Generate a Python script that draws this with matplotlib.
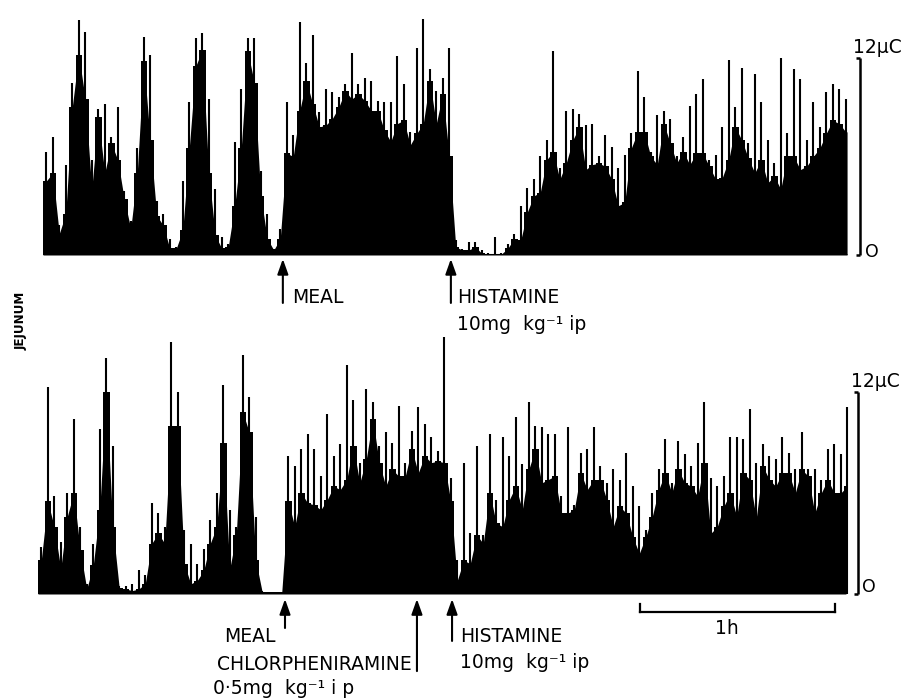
import numpy as np
import matplotlib
matplotlib.use("Agg")
import matplotlib.pyplot as plt

# ---------------- data (µC per 2-min bin) ----------------
BIN_MIN = 2.0  # minutes per bin

top_body = [4.5, 5.0, 1.3, 2.5, 9.0, 12.2, 9.5, 4.0, 8.4, 5.0,
            6.8, 5.8, 3.4, 1.6, 5.0, 11.8, 7.0, 2.4, 1.8, 0.4,
            0.4, 1.5, 6.5, 11.5, 12.5, 5.0, 1.2, 0.4, 0.5, 3.0,
            6.5, 12.4, 10.5, 3.6, 1.0, 0.3, 1.0, 6.2, 6.0, 8.8,
            10.6, 9.2, 7.8, 7.9, 8.3, 9.0, 10.0, 9.5, 9.8, 9.4,
            8.8, 8.8, 7.6, 6.9, 8.0, 8.2, 6.7, 7.4, 8.0, 10.6,
            8.0, 9.8, 6.0, 0.5, 0.3, 0.3, 0.5, 0.1, 0.05, 0.05,
            0.05, 0.4, 1.0, 0.9, 2.6, 3.6, 3.8, 5.8, 6.3, 4.6,
            5.6, 7.0, 7.8, 5.2, 5.5, 5.6, 5.4, 4.6, 3.0, 3.2,
            6.5, 7.5, 7.5, 6.0, 5.5, 8.0, 6.8, 5.6, 6.3, 5.5,
            6.2, 6.2, 5.4, 4.6, 4.7, 5.8, 7.8, 7.0, 5.9, 5.0,
            5.8, 4.4, 4.8, 4.0, 6.0, 6.0, 5.2, 5.4, 6.0, 6.5,
            7.4, 8.2, 8.0, 7.5]
top_peak = [6.3, 7.2, 1.8, 5.5, 10.5, 14.3, 13.6, 5.8, 8.9, 9.2,
            7.2, 9.0, 3.9, 2.1, 6.5, 13.3, 12.2, 3.3, 2.5, 1.0,
            0.5, 4.5, 9.3, 13.2, 13.5, 9.5, 4.0, 1.1, 0.7, 6.9,
            10.1, 13.2, 13.2, 5.1, 2.5, 0.35, 1.6, 9.3, 7.3, 14.2,
            11.7, 13.4, 8.7, 10.1, 9.9, 9.6, 10.4, 12.3, 10.4, 10.8,
            10.6, 9.4, 9.3, 9.3, 12.1, 10.4, 7.5, 12.6, 14.4, 11.3,
            10.0, 10.8, 12.6, 0.9, 0.35, 0.8, 0.8, 0.3, 0.1, 1.1,
            0.1, 0.7, 1.3, 3.0, 4.1, 4.6, 6.0, 7.0, 12.4, 5.3,
            8.8, 8.9, 8.6, 7.9, 8.0, 6.0, 7.3, 6.6, 5.3, 6.1,
            7.4, 11.2, 9.6, 6.3, 8.5, 8.8, 8.3, 6.0, 7.2, 9.1,
            9.8, 10.7, 5.8, 6.1, 7.8, 11.9, 9.0, 11.4, 6.8, 11.0,
            9.3, 7.0, 5.6, 12.0, 7.4, 11.3, 10.7, 7.0, 9.3, 7.8,
            9.9, 10.4, 10.1, 9.5]

bot_body = [2.0, 5.5, 4.0, 1.5, 4.6, 6.0, 2.6, 0.3, 1.7, 5.0,
            12.0, 4.0, 0.35, 0.3, 0.2, 0.3, 0.6, 3.0, 3.6, 3.0,
            10.0, 10.0, 1.8, 0.6, 0.8, 1.4, 3.0, 4.0, 9.0, 1.5,
            3.5, 10.8, 9.6, 2.0, 0.1, 0.1, 0.1, 0.1, 5.5, 4.0,
            6.0, 5.4, 5.3, 5.0, 5.6, 6.4, 6.2, 6.8, 8.8, 6.6,
            8.0, 10.4, 7.8, 6.4, 7.4, 7.0, 7.0, 8.6, 7.2, 8.2,
            7.8, 7.9, 7.8, 5.5, 0.8, 2.0, 1.8, 3.5, 3.0, 6.0,
            4.2, 4.0, 5.6, 6.4, 5.0, 7.4, 8.6, 6.6, 6.8, 7.0,
            4.8, 4.8, 5.0, 7.2, 6.2, 6.8, 6.8, 5.6, 4.0, 5.2,
            4.8, 3.4, 2.4, 3.4, 4.6, 6.2, 7.2, 6.0, 7.4, 6.6,
            6.4, 5.8, 7.8, 3.6, 4.0, 5.2, 6.0, 4.6, 7.2, 6.8,
            4.5, 7.6, 6.8, 6.4, 7.2, 7.2, 6.0, 7.4, 7.0, 4.8,
            6.0, 6.8, 6.0, 6.0, 6.4]
bot_peak = [2.8, 12.3, 5.8, 3.1, 6.0, 10.4, 4.0, 0.6, 3.0, 9.8,
            14.0, 8.8, 0.5, 0.5, 0.6, 1.4, 1.1, 5.4, 4.8, 4.0,
            15.0, 12.0, 3.8, 3.0, 1.8, 2.7, 4.4, 6.0, 12.4, 5.0,
            4.0, 14.2, 11.7, 4.6, 0.2, 0.1, 0.1, 0.1, 8.2, 7.6,
            8.6, 9.5, 8.6, 7.0, 10.7, 8.2, 8.9, 13.6, 11.5, 7.8,
            12.2, 11.4, 8.8, 9.6, 9.0, 11.2, 7.8, 9.7, 11.1, 10.1,
            9.3, 8.5, 15.3, 6.9, 2.0, 7.8, 3.6, 8.8, 3.5, 9.5,
            5.6, 9.3, 8.2, 10.5, 7.7, 11.4, 10.0, 9.9, 9.5, 9.5,
            5.8, 9.9, 5.3, 8.4, 8.6, 9.9, 7.6, 6.6, 7.4, 6.8,
            8.4, 6.4, 5.2, 3.8, 6.0, 7.4, 9.2, 6.6, 9.1, 8.3,
            7.6, 9.0, 11.4, 6.9, 6.4, 7.0, 9.3, 9.3, 9.2, 11.0,
            7.8, 8.9, 8.2, 8.0, 9.3, 8.4, 7.4, 9.6, 7.4, 7.4,
            6.8, 8.6, 8.9, 8.3, 11.1]

# event times (minutes from start of each trace)
top_meal_t = 73.8
top_hist_t = 125.5
bot_meal_t = 76.0
bot_chlor_t = 116.6
bot_hist_t = 127.4

scale_uC = 12          # vertical calibration
scale_hour_min = 60    # horizontal calibration
scale_hour_start = 185.2

# ---------------- layout ----------------
W, H = 905, 699
fig = plt.figure(figsize=(W / 100, H / 100), dpi=100)
plt.rcParams['font.family'] = ['DejaVu Sans']
FS = 13.5


def add_axes_px(left, right, bottom, top):
    return fig.add_axes([left / W, 1 - bottom / H, (right - left) / W, (bottom - top) / H])


def ftext(x, y, s, **kw):
    kw.setdefault('fontsize', FS)
    kw.setdefault('va', 'baseline')
    fig.text(x / W, 1 - y / H, s, **kw)


ax1 = add_axes_px(43, 43 + 250 * 3.25, 255, 255 - 15.2 * 16.42)
ax1.set_xlim(0, 250)
ax1.set_ylim(0, 15.2)
ax2 = add_axes_px(38, 38 + 250 * 3.25, 594, 594 - 15.6 * 16.83)
ax2.set_xlim(0, 250)
ax2.set_ylim(0, 15.6)
for ax in (ax1, ax2):
    ax.axis('off')


def draw_trace(ax, body, peak, t_end):
    body = np.asarray(body, float)
    peak = np.asarray(peak, float)
    n = len(body)
    t = (np.arange(n) + 0.5) * BIN_MIN
    t_fill = np.concatenate([[0.0], t, [t_end]])
    b_fill = np.concatenate([[body[0]], body, [body[-1]]])
    # solid mass of the record: linear and stepped envelopes together
    ax.fill_between(t_fill, 0, b_fill, color='k', lw=0)
    ax.fill_between(t_fill, 0, b_fill, step='mid', color='k', lw=0)
    ax.vlines(t, 0, peak, color='k', lw=1.5)
    ax.hlines(0, 0, t_end, color='k', lw=2.2)


draw_trace(ax1, top_body, top_peak, len(top_body) * BIN_MIN - 0.6)
draw_trace(ax2, bot_body, bot_peak, len(bot_body) * BIN_MIN - 1.4)


def cal_bar(ax, tb, label_dx, zero_dx, zero_y):
    kw = dict(color='k', lw=1.8, clip_on=False, solid_capstyle='butt')
    ax.plot([tb, tb], [0, scale_uC], **kw)
    ax.plot([tb - 1.2, tb], [scale_uC, scale_uC], **kw)
    ax.plot([tb - 1.2, tb], [0, 0], **kw)
    ax.text(tb + label_dx, scale_uC + 0.3, '12µC', fontsize=FS, ha='left', va='baseline', clip_on=False)
    ax.text(tb + zero_dx, zero_y, 'O', fontsize=FS - 1, ha='left', va='center', clip_on=False)


cal_bar(ax1, (860 - 43) / 3.25, -2.2, 1.6, 0.2)
cal_bar(ax2, (858 - 38) / 3.25, -2.2, 1.2, 0.39)


def arrow(ax, t, y_head, y_tail):
    ax.annotate('', xy=(t, y_head), xytext=(t, y_tail),
                arrowprops=dict(arrowstyle='-|>,head_length=0.7,head_width=0.25', color='k', lw=1.5,
                                mutation_scale=13, shrinkA=0, shrinkB=0),
                annotation_clip=False)


arrow(ax1, top_meal_t, -0.24, -2.92)
arrow(ax1, top_hist_t, -0.24, -2.92)
arrow(ax2, bot_meal_t, -0.30, -2.02)
arrow(ax2, bot_chlor_t, -0.30, -4.58)
arrow(ax2, bot_hist_t, -0.30, -2.79)

# 1 h bar
kw = dict(color='k', lw=1.6, clip_on=False)
hb0, hb1 = scale_hour_start, scale_hour_start + scale_hour_min
ax2.plot([hb0, hb1], [-1.07, -1.07], **kw)
ax2.plot([hb0, hb0], [-1.07, -0.62], **kw)
ax2.plot([hb1, hb1], [-1.07, -0.62], **kw)

# labels
ftext(292, 303, 'MEAL')
ftext(457, 303, 'HISTAMINE')
ftext(457, 330, '10mg  kg⁻¹ ip')
ftext(276, 642, 'MEAL', ha='right')
ftext(460, 642, 'HISTAMINE')
ftext(460, 668, '10mg  kg⁻¹ ip')
ftext(412, 670, 'CHLORPHENIRAMINE', ha='right')
ftext(213, 694, '0·5mg  kg⁻¹ i p')
ftext(727, 634, '1h', ha='center')
fig.text(21 / W, 1 - 321 / H, 'JEJUNUM', rotation=90, ha='center', va='center',
         fontsize=9.5, fontweight='bold', fontstretch='condensed')

fig.savefig('out.png', dpi=100)
